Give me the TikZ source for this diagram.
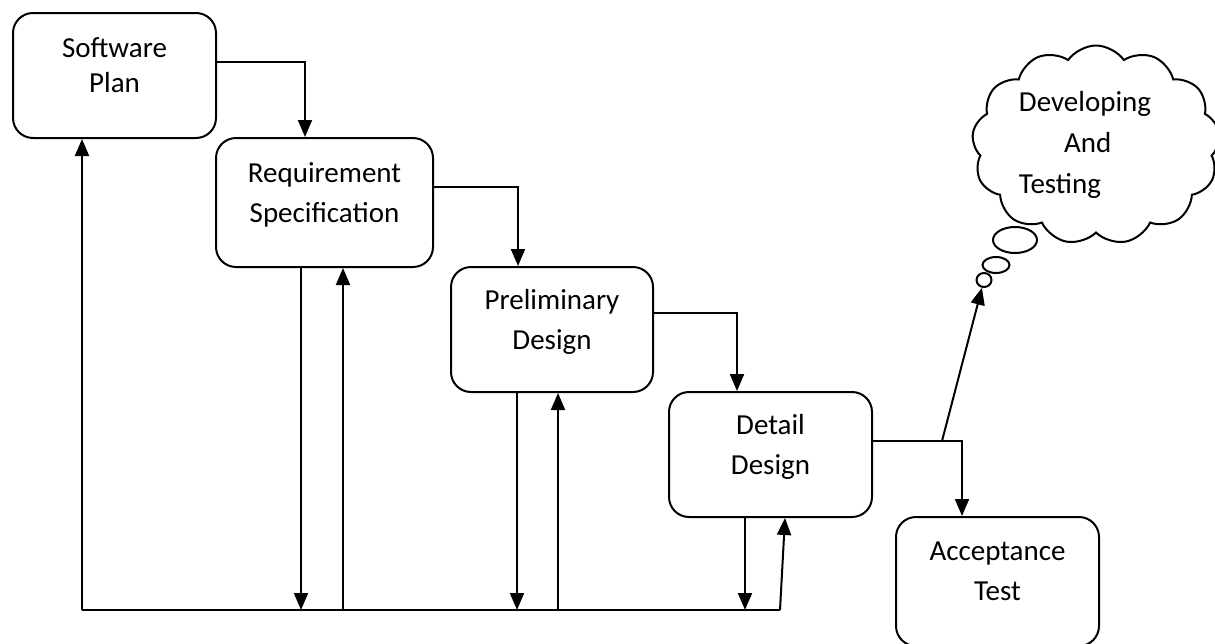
\documentclass[tikz,border=0pt]{standalone}
\usepackage{fontspec}
\setmainfont{Carlito}
\usetikzlibrary{shapes.geometric,shapes.symbols,arrows.meta}

\begin{document}
\begin{tikzpicture}[x=0.5pt,y=-0.5pt,line width=1pt,
  stage/.style={draw,rounded corners=10pt,minimum width=101.5pt,minimum height=62.5pt,
    align=center,text depth=10pt,inner sep=0pt,font=\fontsize{14.5}{20}\selectfont},
  bubble/.style={draw,ellipse,inner sep=0pt},
  >={Triangle[width=7pt,length=8.5pt]}]
  \useasboundingbox (0,0) rectangle (1215,643);

  % stages
  \node[stage] (plan) at (114.5,75.5) {Software\\[-2.5pt]Plan};
  \node[stage,minimum width=108.5pt,minimum height=64.5pt] (req) at (324.5,202.5) {Requirement\\Specification};
  \node[stage,minimum width=101pt] (prelim) at (552,329.5) {Preliminary\\Design};
  \node[stage] (detail) at (770.5,454.5) {Detail\\Design};
  \node[stage,minimum height=64.5pt] (accept) at (997.5,581.5) {Acceptance\\Test};

  % thought cloud
  \node[cloud,draw,cloud puffs=13,cloud puff arc=110,cloud ignores aspect,inner sep=0pt,
    minimum width=124pt,minimum height=99.5pt,
    align=left,font=\fontsize{14.5}{20.5}\selectfont] (cloud) at (1096,145)
    {Developing\hspace*{11pt}\\\hphantom{Dev}And\\Testing};
  \node[bubble,minimum width=22pt,minimum height=13pt] (b1) at (1015,240) {};
  \node[bubble,minimum width=13.5pt,minimum height=8pt] (b2) at (996,265) {};
  \node[bubble,minimum width=7.5pt,minimum height=7pt] (b3) at (984,280) {};

  \coordinate (bus) at (82,610);
  \coordinate (busend) at (780,610);
  \coordinate (fork) at (942,441);

  % forward flow
  \draw[->] ([yshift=6.75pt]plan.east) -| ([xshift=-9.75pt]req.north);
  \draw[->] ([yshift=7.75pt]req.east) -| ([xshift=-17pt]prelim.north);
  \draw[->] ([yshift=8.25pt]prelim.east) -| ([xshift=-16.75pt]detail.north);
  \draw[->] ([yshift=6.75pt]detail.east) -| ([xshift=-17.75pt]accept.north);
  \draw[->] (fork) -- (b3);

  % feedback bus
  \draw (bus) -- (busend);
  \draw[->] (bus) -- (bus |- plan.south);
  \draw[->] ([xshift=-11.75pt]req.south) -- ([xshift=-11.75pt]req.south |- bus);
  \draw[->] ([xshift=9.25pt]req.south |- bus) -- ([xshift=9.25pt]req.south);
  \draw[->] ([xshift=-17.5pt]prelim.south) -- ([xshift=-17.5pt]prelim.south |- bus);
  \draw[->] ([xshift=3pt]prelim.south |- bus) -- ([xshift=3pt]prelim.south);
  \draw[->] ([xshift=-12.75pt]detail.south) -- ([xshift=-12.75pt]detail.south |- bus);
  \draw[->] (busend) -- ([xshift=7.25pt]detail.south);
\end{tikzpicture}
\end{document}
